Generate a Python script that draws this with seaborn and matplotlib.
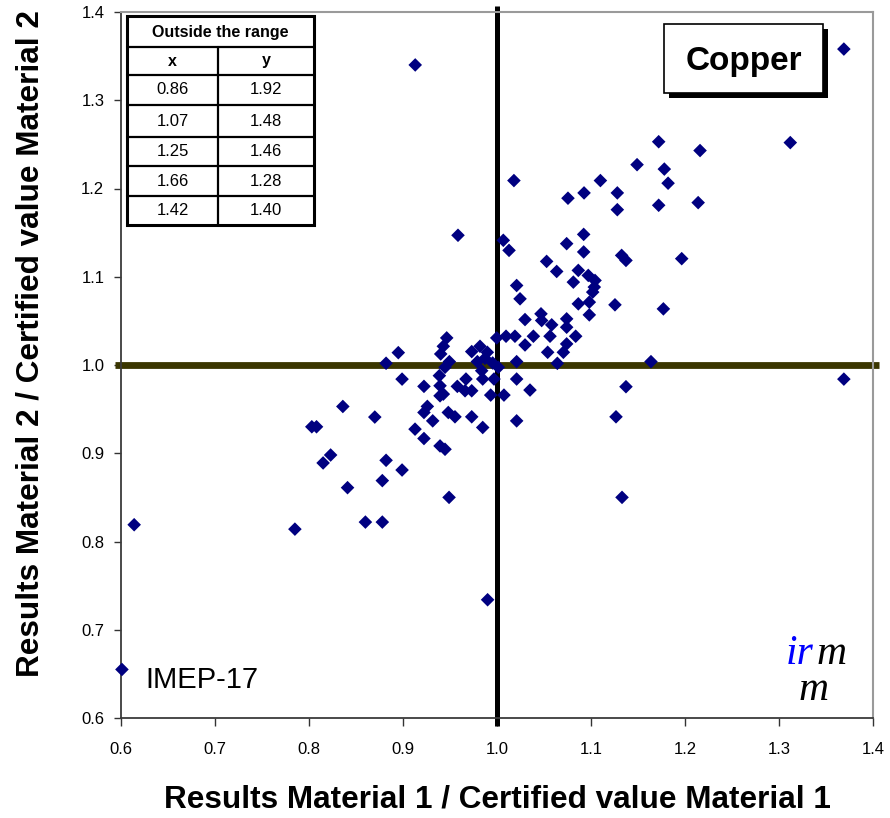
import matplotlib
matplotlib.use("Agg")
import matplotlib.pyplot as plt
from matplotlib.patches import Rectangle
from matplotlib import font_manager
import seaborn as sns
import pandas as pd

# Ratios of reported result to certified value, material 1 (x) and material 2 (y)
ratio_m1 = [
    0.913, 1.018, 0.9585, 1.172, 1.149, 1.178, 1.182, 1.110, 1.0926, 1.0755,
    1.128, 1.128, 1.172, 1.216, 1.214, 1.0922, 1.369, 1.312,
    1.0067, 1.0128, 1.0741, 1.0922, 1.0528, 1.0635, 1.1326, 1.1372, 1.1965,
    1.0865, 1.0812, 1.0971, 1.1043, 1.1035, 1.1018, 1.0865, 1.0982, 1.0982,
    1.1255, 1.1770, 1.0209, 1.0245, 1.0298, 1.0468, 1.0475, 1.0582, 1.0741,
    1.0741, 1.0564, 1.0387, 1.0191, 1.0096, 0.9997, 1.0298, 1.0741, 1.0706,
    1.0539, 1.0837, 1.0209, 1.0642, 1.1638, 0.9465, 0.9429, 0.9401, 0.9493,
    0.9447, 0.9731, 0.9819, 0.9897, 0.9791, 0.9872, 0.9954, 1.0014, 0.9837,
    0.9387, 0.9223, 0.9394, 0.9429, 0.9394, 0.9578, 0.9670, 0.9660, 0.9731,
    0.9848, 0.9968, 0.9933, 1.0074, 1.0209, 1.0351, 1.1372, 1.1266, 0.9259,
    0.9223, 0.9482, 0.9553, 0.9731, 0.9316, 0.9848, 0.9128, 0.9223, 0.9394,
    0.9447, 1.0209,
    0.895, 0.882, 0.899, 0.836, 0.870, 0.803, 0.808, 0.823, 0.815, 0.882,
    0.899, 0.878, 0.841,
    0.614, 0.785, 0.860, 0.878, 0.601,
    0.949, 0.990, 1.133, 1.369,
]
ratio_m2 = [
    1.340, 1.209, 1.147, 1.253, 1.227, 1.222, 1.206, 1.209, 1.195, 1.189,
    1.195, 1.176, 1.181, 1.243, 1.184, 1.148, 1.358, 1.252,
    1.1413, 1.1299, 1.1375, 1.1281, 1.1174, 1.1060, 1.1242, 1.1185, 1.1205,
    1.1072, 1.0939, 1.1015, 1.0958, 1.0883, 1.0826, 1.0693, 1.0712, 1.0568,
    1.0682, 1.0636, 1.0901, 1.0750, 1.0515, 1.0580, 1.0504, 1.0455, 1.0523,
    1.0428, 1.0326, 1.0326, 1.0326, 1.0326, 1.0307, 1.0227, 1.0239, 1.0144,
    1.0144, 1.0326, 1.0038, 1.0019, 1.0038, 1.0307, 1.0212, 1.0125, 1.0038,
    0.9974, 1.0152, 1.0212, 1.0144, 1.0038, 1.0076, 1.0023, 0.9974, 0.9935,
    0.9879, 0.9758, 0.9765, 0.9670, 0.9651, 0.9758, 0.9841, 0.9708, 0.9708,
    0.9841, 0.9841, 0.9659, 0.9659, 0.9841, 0.9716, 0.9754, 0.9413, 0.9531,
    0.9462, 0.9462, 0.9413, 0.9413, 0.9367, 0.9292, 0.9273, 0.9167, 0.9083,
    0.9045, 0.9367,
    1.014, 1.002, 0.984, 0.953, 0.941, 0.930, 0.930, 0.898, 0.889, 0.892,
    0.881, 0.869, 0.861,
    0.819, 0.814, 0.822, 0.822, 0.655,
    0.850, 0.734, 0.850, 0.984,
]

# Results lying outside the plotted range
outside_x = ["0.86", "1.07", "1.25", "1.66", "1.42"]
outside_y = ["1.92", "1.48", "1.46", "1.28", "1.40"]

ticks = [0.6, 0.7, 0.8, 0.9, 1.0, 1.1, 1.2, 1.3, 1.4]
tick_labels = ["0.6", "0.7", "0.8", "0.9", "1.0", "1.1", "1.2", "1.3", "1.4"]
reference_value = 1.0
element = "Copper"
study = "IMEP-17"

sns.set_theme(style="white")
installed = {f.name for f in font_manager.fontManager.ttflist}
sans = "Liberation Sans" if "Liberation Sans" in installed else "DejaVu Sans"
serif = "Liberation Serif" if "Liberation Serif" in installed else "DejaVu Serif"
plt.rcParams["font.family"] = [sans, "DejaVu Sans"]
plt.rcParams["text.color"] = "black"
plt.rcParams["xtick.color"] = "black"
plt.rcParams["ytick.color"] = "black"

fig = plt.figure(figsize=(8.9, 8.18), dpi=100)
ax = fig.add_axes([121 / 890, 1 - 718 / 818, 752 / 890, 706 / 818])

df = pd.DataFrame({"m1": ratio_m1, "m2": ratio_m2})

# Reference lines at the certified value
ax.plot([-0.008, 1.008], [reference_value, reference_value],
        transform=ax.get_yaxis_transform(), color="#3a3600", lw=4.9,
        clip_on=False, zorder=2, solid_capstyle="butt")
ax.plot([reference_value, reference_value], [-0.011, 1.009],
        transform=ax.get_xaxis_transform(), color="black", lw=3.6,
        clip_on=False, zorder=2.1, solid_capstyle="butt")

sns.scatterplot(data=df, x="m1", y="m2", marker="D", s=48, color="#000080",
                edgecolor="none", linewidth=0, ax=ax, clip_on=False, zorder=3)

ax.set_xlim(0.6, 1.4)
ax.set_ylim(0.6, 1.4)
ax.set_xticks(ticks)
ax.set_yticks(ticks)
ax.set_xticklabels(tick_labels, fontsize=12)
ax.set_yticklabels(tick_labels, fontsize=12)
ax.tick_params(axis="x", direction="out", length=6, width=1, color="#333333",
               pad=11, bottom=True)
ax.tick_params(axis="y", direction="out", length=5, width=1, color="#333333",
               pad=7, left=True)
ax.set_xlabel("")
ax.set_ylabel("")

for side in ("left", "bottom"):
    ax.spines[side].set_color("#3a3a3a")
    ax.spines[side].set_linewidth(1.3)
for side in ("top", "right"):
    ax.spines[side].set_color("#9a9a9a")
    ax.spines[side].set_linewidth(1.5)

# Table of out-of-range results
tx0, tx1, txm = (127 - 121) / 752, (314 - 121) / 752, (218 - 121) / 752
row_px = [16, 47, 75, 105, 137, 166, 196, 225]
row_y = [(718 - p) / 706 for p in row_px]
ax.add_patch(Rectangle((tx0, row_y[-1]), tx1 - tx0, row_y[0] - row_y[-1],
                       transform=ax.transAxes, facecolor="white",
                       edgecolor="black", lw=2.2, zorder=5, clip_on=False))
for yy in row_y[1:-1]:
    ax.plot([tx0, tx1], [yy, yy], transform=ax.transAxes, color="black",
            lw=1.6, zorder=6, clip_on=False)
ax.plot([txm, txm], [row_y[1], row_y[-1]], transform=ax.transAxes,
        color="black", lw=1.6, zorder=6, clip_on=False)
ax.text((tx0 + tx1) / 2, (row_y[0] + row_y[1]) / 2 - 0.002, "Outside the range",
        transform=ax.transAxes, ha="center", va="center", fontsize=11.5,
        fontweight="bold", zorder=7)
ax.text((tx0 + txm) / 2, (row_y[1] + row_y[2]) / 2, "x",
        transform=ax.transAxes, ha="center", va="center", fontsize=11.5,
        fontweight="bold", zorder=7)
ax.text((txm + tx1) / 2, (row_y[1] + row_y[2]) / 2, "y",
        transform=ax.transAxes, ha="center", va="center", fontsize=11.5,
        fontweight="bold", zorder=7)
for i, (vx, vy) in enumerate(zip(outside_x, outside_y)):
    yc = (row_y[i + 2] + row_y[i + 3]) / 2
    ax.text((tx0 + txm) / 2, yc, vx, transform=ax.transAxes, ha="center",
            va="center", fontsize=12, zorder=7)
    ax.text((txm + tx1) / 2, yc, vy, transform=ax.transAxes, ha="center",
            va="center", fontsize=12, zorder=7)

# Element label box with drop shadow
bx0, bx1 = (664 - 121) / 752, (823 - 121) / 752
by0, by1 = (718 - 93) / 706, (718 - 24) / 706
ax.add_patch(Rectangle((bx0 + 5 / 752, by0 - 5 / 706), bx1 - bx0, by1 - by0,
                       transform=ax.transAxes, facecolor="black",
                       edgecolor="black", lw=0, zorder=5))
ax.add_patch(Rectangle((bx0, by0), bx1 - bx0, by1 - by0,
                       transform=ax.transAxes, facecolor="white",
                       edgecolor="black", lw=1.2, zorder=6))
ax.text((bx0 + bx1) / 2, (by0 + by1) / 2 - 0.004, element,
        transform=ax.transAxes, ha="center", va="center", fontsize=24,
        fontweight="bold", zorder=7)

# Study name
ax.text((145 - 121) / 752, (718 - 688) / 706, study, transform=ax.transAxes,
        ha="left", va="baseline", fontsize=21, zorder=7)

# Institute mark
ax.text((814 - 121) / 752, (718 - 664) / 706, "ir", transform=ax.transAxes,
        ha="right", va="baseline", fontsize=30, style="italic",
        family=serif, color="#0000ff", zorder=7)
ax.text((816 - 121) / 752, (718 - 664) / 706, "m", transform=ax.transAxes,
        ha="left", va="baseline", fontsize=30, style="italic",
        family=serif, color="black", zorder=7)
ax.text((798 - 121) / 752, (718 - 700) / 706, "m", transform=ax.transAxes,
        ha="left", va="baseline", fontsize=30, style="italic",
        family=serif, color="black", zorder=7)

# Axis titles
fig.text(497 / 890, 1 - 800 / 818, "Results Material 1 / Certified value Material 1",
         ha="center", va="center", fontsize=22.7, fontweight="bold")
fig.text(31 / 890, 1 - 344 / 818, "Results Material 2 / Certified value Material 2",
         ha="center", va="center", rotation=90, fontsize=22.7, fontweight="bold")

fig.savefig("out.png", dpi=100, facecolor="white")
